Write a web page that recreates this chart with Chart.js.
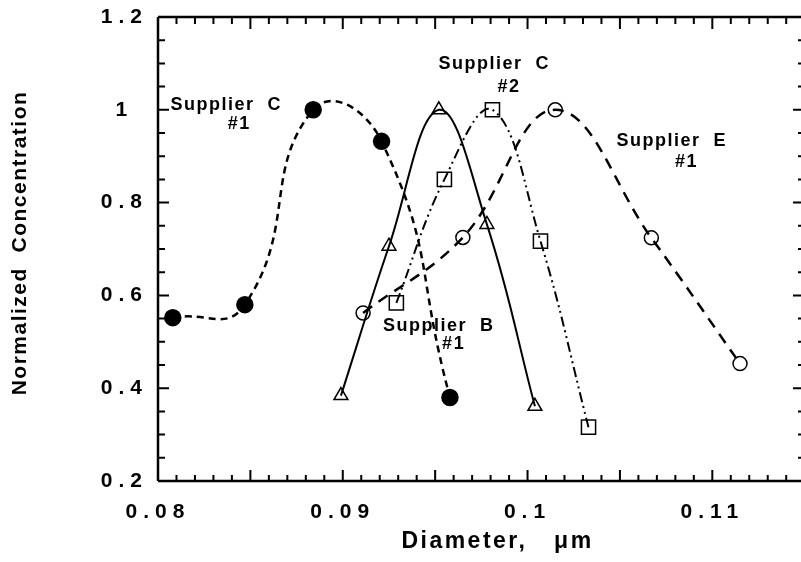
<!DOCTYPE html>
<html>
<head>
<meta charset="utf-8">
<script src="https://cdn.jsdelivr.net/npm/chart.js@4.4.1/dist/chart.umd.min.js"></script>
<style>
  html, body { margin: 0; padding: 0; background: #fff; }
  #wrap { width: 801px; height: 562px; }
</style>
</head>
<body>
<div id="wrap"><canvas id="chart" width="801" height="562"></canvas></div>
<script>
// ////// values //////
const xTicks = [0.08, 0.09, 0.1, 0.11];
const yTicks = [0.2, 0.4, 0.6, 0.8, 1, 1.2];

// Supplier C #1 (filled circles)
const c1X = [0.0808, 0.0847, 0.0884, 0.0921, 0.0958];
const c1Y = [0.552, 0.580, 1.000, 0.932, 0.380];
// Supplier B #1 (triangles)
const b1X = [0.0899, 0.0925, 0.0952, 0.0978, 0.1004];
const b1Y = [0.384, 0.706, 1.000, 0.753, 0.361];
// Supplier C #2 (squares)
const c2X = [0.0929, 0.0955, 0.0981, 0.1007, 0.1033];
const c2Y = [0.584, 0.850, 1.000, 0.717, 0.316];
// Supplier E #1 (open circles)
const e1X = [0.0911, 0.0965, 0.1015, 0.1067, 0.1115];
const e1Y = [0.562, 0.725, 1.000, 0.724, 0.453];

// labels written inside the plot, anchored in data units
const notes = [
  ['Supplier  C', 0.0837, 1.011], ['#1', 0.0844, 0.970],
  ['Supplier  C', 0.0982, 1.098], ['#2', 0.0990, 1.050],
  ['Supplier  E', 0.1078, 0.932], ['#1', 0.1086, 0.888],
  ['Supplier  B', 0.0952, 0.533], ['#1', 0.0960, 0.496]
];
const xTitle = 'Diameter,   \u03bcm';
const yTitle = 'Normalized  Concentration';

const FONT = "'Liberation Sans', Arial, Helvetica, sans-serif";

function pts(xs, ys) {
  return xs.map((v, i) => ({x: v, y: ys[i]}));
}
function fmt(v) {
  return String(parseFloat(v.toFixed(3)));
}

////// ticks pointing inwards on all four sides, frame, titles, notes //////
const frame = {
  id: 'frame',
  beforeDraw(chart) {
    // wide tracking of the tick numbers
    chart.ctx.letterSpacing = '6px';
  },
  afterDraw(chart) {
    const ctx = chart.ctx;
    const a = chart.chartArea;
    const x = chart.scales.x, y = chart.scales.y;
    ctx.save();
    ctx.strokeStyle = '#000';
    ctx.lineCap = 'butt';

    ctx.lineWidth = 2.5;
    ctx.beginPath();
    ctx.moveTo(a.left, a.top); ctx.lineTo(a.right, a.top);
    ctx.moveTo(a.left, a.top); ctx.lineTo(a.left, a.bottom);
    ctx.moveTo(a.left, a.bottom); ctx.lineTo(a.right, a.bottom);
    ctx.stroke();

    ctx.lineWidth = 2;
    ctx.beginPath();
    for (let k = 80; k <= 115; k++) {
      const px = x.getPixelForValue(k / 1000);
      if (px > a.right - 1) break;
      const len = k % 5 === 0 ? 11 : 6;
      ctx.moveTo(px, a.bottom); ctx.lineTo(px, a.bottom - len);
      ctx.moveTo(px, a.top); ctx.lineTo(px, a.top + len + 1);
    }
    for (let k = 4; k <= 24; k++) {
      const py = y.getPixelForValue(k * 0.05);
      const len = k % 4 === 0 ? 11 : 7;
      ctx.moveTo(a.left, py); ctx.lineTo(a.left + len, py);
      ctx.moveTo(a.right, py); ctx.lineTo(a.right - (k % 4 === 0 ? 8 : 3), py);
    }
    ctx.stroke();

    ctx.fillStyle = '#000';
    ctx.textAlign = 'center';

    // axis titles
    ctx.font = 'bold 23px ' + FONT;
    ctx.letterSpacing = '2.5px';
    ctx.textBaseline = 'alphabetic';
    ctx.fillText(xTitle, (a.left + a.right) / 2 + 18, 548);

    ctx.save();
    ctx.font = 'bold 21px ' + FONT;
    ctx.letterSpacing = '1.5px';
    ctx.textBaseline = 'middle';
    ctx.translate(20, (a.top + a.bottom) / 2 - 6);
    ctx.rotate(-Math.PI / 2);
    ctx.fillText(yTitle, 0, 0);
    ctx.restore();

    // notes inside the plot
    ctx.font = 'bold 18px ' + FONT;
    ctx.letterSpacing = '1.5px';
    ctx.textBaseline = 'middle';
    notes.forEach(n => {
      ctx.fillText(n[0], x.getPixelForValue(n[1]), y.getPixelForValue(n[2]));
    });
    ctx.restore();
  }
};

const open = 'rgba(0,0,0,0)';

const data = {
  datasets: [
    {
      label: 'Supplier C #1',
      data: pts(c1X, c1Y),
      borderColor: '#000', borderWidth: 2.5, borderDash: [7, 5],
      tension: 0.5,
      pointStyle: 'circle', pointRadius: 7.5,
      pointBackgroundColor: '#000', pointBorderColor: '#000'
    },
    {
      label: 'Supplier B #1',
      data: pts(b1X, b1Y),
      borderColor: '#000', borderWidth: 2,
      tension: 0.4,
      pointStyle: 'triangle', pointRadius: 8, pointBorderWidth: 1.5,
      pointBackgroundColor: open, pointBorderColor: '#000'
    },
    {
      label: 'Supplier C #2',
      data: pts(c2X, c2Y),
      borderColor: '#000', borderWidth: 2, borderDash: [10, 4, 2, 4, 2, 4],
      tension: 0.4,
      pointStyle: 'rect', pointRadius: 10, pointBorderWidth: 1.5,
      pointBackgroundColor: open, pointBorderColor: '#000'
    },
    {
      label: 'Supplier E #1',
      data: pts(e1X, e1Y),
      borderColor: '#000', borderWidth: 2.5, borderDash: [11, 8],
      tension: 0.4,
      pointStyle: 'circle', pointRadius: 7, pointBorderWidth: 1.5,
      pointBackgroundColor: open, pointBorderColor: '#000'
    }
  ]
};

const config = {
  type: 'line',
  data: data,
  plugins: [frame],
  options: {
    responsive: false,
    animation: false,
    layout: {
      autoPadding: false,
      padding: { top: 17, right: 0, bottom: 0, left: 0 }
    },
    plugins: {
      legend: { display: false },
      tooltip: { enabled: false }
    },
    scales: {
      x: {
        type: 'linear',
        min: 0.08,
        max: 0.1148,
        afterBuildTicks: s => { s.ticks = xTicks.map(v => ({value: v})); },
        afterFit: s => {
          s.height = 81;
          s.paddingLeft = 0; s.paddingRight = 0;
        },
        grid: { display: false, drawTicks: false },
        border: { display: false },
        ticks: {
          padding: 19,
          color: '#000',
          font: { family: FONT, weight: 'bold', size: 21 },
          maxRotation: 0,
          callback: v => fmt(v)
        }
      },
      y: {
        type: 'linear',
        min: 0.2,
        max: 1.2,
        afterBuildTicks: s => { s.ticks = yTicks.map(v => ({value: v})); },
        afterFit: s => {
          s.width = 158;
          s.paddingTop = 0; s.paddingBottom = 0;
        },
        grid: { display: false, drawTicks: false },
        border: { display: false },
        ticks: {
          padding: 19,
          crossAlign: 'center',
          color: '#000',
          font: { family: FONT, weight: 'bold', size: 21 },
          callback: v => fmt(v)
        }
      }
    }
  }
};

var myChart = new Chart(document.getElementById('chart'), config);
</script>
</body>
</html>
